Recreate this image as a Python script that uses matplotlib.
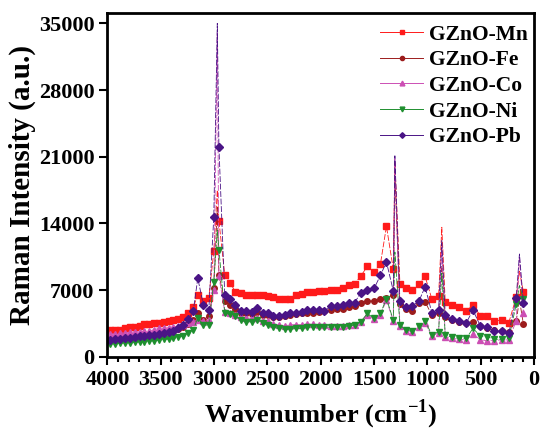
import numpy as np
import matplotlib
matplotlib.use("Agg")
import matplotlib.pyplot as plt
from matplotlib.lines import Line2D
from matplotlib.ticker import MultipleLocator

plt.rcParams['font.family'] = ['Liberation Serif']
plt.rcParams['font.weight'] = 'bold'
plt.rcParams['mathtext.fontset'] = 'custom'
plt.rcParams['mathtext.rm'] = 'Liberation Serif:bold'

# wavenumber positions of the plotted points (cm-1)
wn = [3972, 3925, 3878, 3831, 3788, 3744, 3697, 3655, 3612, 3565,
      3518, 3471, 3426, 3383, 3336, 3289, 3242, 3196, 3153, 3100,
      3050, 3003, 2955, 2900, 2852, 2800, 2750, 2700, 2648, 2598,
      2543, 2494, 2444, 2390, 2334, 2284, 2231, 2178, 2128, 2075,
      2018, 1965, 1904, 1849, 1792, 1736, 1683, 1626, 1563, 1500,
      1440, 1384, 1320, 1258, 1201, 1140, 1078, 1022, 958, 895,
      833, 770, 700, 635, 573, 503, 440, 371, 305, 237,
      167, 100]

mn = [2820, 2820, 2850, 3000, 3100, 3170, 3240, 3410, 3450, 3520,
      3590, 3660, 3760, 3870, 3940, 4150, 4630, 5220, 6480, 5850,
      6200, 11100, 14300, 8570, 7800, 6830, 6720, 6480, 6450, 6550,
      6450, 6410, 6340, 6030, 6130, 6130, 6480, 6650, 6830, 6830,
      6930, 6930, 7070, 7070, 7180, 7520, 7700, 8460, 9510, 8920,
      9790, 13700, 9200, 7700, 7180, 7000, 7700, 8460, 6060, 6370,
      5780, 5430, 5190, 4840, 5430, 4320, 4320, 3790, 3860, 3580,
      6300, 6830]

fe = [1900, 1950, 2000, 2050, 2100, 2150, 2200, 2250, 2300, 2400,
      2500, 2550, 2650, 2750, 2900, 3100, 3500, 3900, 4600, 3870,
      4320, 7180, 8570, 5890, 5500, 4980, 4630, 4630, 4490, 4740,
      4390, 4390, 4220, 4220, 4280, 4390, 4460, 4560, 4630, 4630,
      4740, 4810, 4910, 4980, 5080, 5190, 5330, 5710, 5850, 5890,
      6030, 6200, 6480, 5540, 4980, 4810, 5610, 5780, 4390, 4630,
      4220, 3870, 3690, 3590, 3690, 3240, 3000, 2820, 2720, 2650,
      3790, 3450]

co = [2400, 2450, 2500, 2540, 2600, 2650, 2650, 2700, 2720, 2850,
      3000, 3020, 3070, 3170, 3250, 3340, 3590, 3690, 3900, 3790,
      3870, 7000, 8460, 4740, 4560, 4450, 4180, 4100, 4050, 4100,
      3760, 3760, 3450, 3380, 3270, 3380, 3380, 3380, 3450, 3450,
      3380, 3380, 3270, 3270, 3270, 3300, 3380, 3700, 4400, 3930,
      4450, 5960, 3790, 3240, 2750, 2650, 3100, 3590, 2190, 2540,
      2060, 1950, 1850, 1780, 2440, 1800, 1700, 1710, 1800, 1780,
      3790, 4630]

ni = [1360, 1400, 1430, 1470, 1500, 1540, 1570, 1600, 1640, 1700,
      1780, 1850, 1880, 1950, 2060, 2190, 2540, 2820, 4100, 3340,
      3340, 7870, 11250, 4630, 4460, 4280, 3870, 3690, 3690, 3870,
      3520, 3340, 3100, 3000, 2890, 2890, 3000, 3000, 3170, 3100,
      3170, 3170, 3100, 3170, 3170, 3240, 3340, 3690, 4560, 4040,
      4560, 6130, 3870, 3340, 2820, 2750, 3240, 3790, 2300, 2650,
      2300, 2060, 1950, 1950, 3000, 2190, 2120, 1850, 1850, 1950,
      5540, 6130]

pb = [1780, 1830, 1880, 1950, 2020, 2080, 2150, 2190, 2250, 2300,
      2450, 2540, 2650, 2750, 3000, 3340, 3930, 4800, 8250, 5430,
      4910, 14660, 22050, 6480, 6060, 5500, 4840, 4840, 4740, 5150,
      4560, 4560, 4280, 4280, 4390, 4560, 4560, 4740, 4910, 4910,
      4910, 4810, 5330, 5330, 5430, 5610, 5680, 6720, 7070, 7180,
      8570, 9960, 6930, 5890, 5190, 5360, 5890, 7350, 4630, 4910,
      4390, 3930, 3760, 3590, 4910, 3240, 3100, 2720, 2720, 2470,
      6200, 5610]

# sharp peaks seen only as thin lines (no marker)
peak_wn = [2970, 1305, 865, 137]
mn_peak = [17500, 20500, 13600, 9000]
fe_peak = [15700, 19000, 9500, 6000]
co_peak = [34000, 20800, 11500, 10600]
ni_peak = [13300, 11000, 8800, 7500]
pb_peak = [35000, 21100, 12200, 10800]

series = [
    ("GZnO-Mn", mn, mn_peak, "#ff1a1a", "s", 4.0),
    ("GZnO-Fe", fe, fe_peak, "#9c1c1c", "o", 4.0),
    ("GZnO-Co", co, co_peak, "#cc4fb4", "^", 4.6),
    ("GZnO-Ni", ni, ni_peak, "#1f8f2f", "v", 4.6),
    ("GZnO-Pb", pb, pb_peak, "#4a1486", "D", 3.8),
]

fig = plt.figure(figsize=(5.4, 4.29), dpi=100)
ax = fig.add_axes([0.199, 0.168, 0.790, 0.802])

handles = []
for name, vals, peaks, col, mk, ms in series:
    xs = np.array(wn + peak_wn)
    ys = np.array(vals + peaks)
    order = np.argsort(-xs)
    ax.plot(xs[order], ys[order], color=col, lw=0.6, ls=(0, (7, 2)))
    ax.plot(wn, vals, ls='none', marker=mk, ms=ms, color=col, mec=col)
    handles.append(Line2D([], [], color=col, lw=0.7, marker=mk, ms=ms * 0.75, label=name))

ax.set_xlim(4000, 0)
ax.set_ylim(0, 36100)
ax.set_yticks(range(0, 35001, 7000))
ax.xaxis.set_major_locator(MultipleLocator(500))
ax.xaxis.set_minor_locator(MultipleLocator(100))
ax.tick_params(axis='both', which='major', direction='out', length=6, width=1.5, labelsize=16)
ax.tick_params(axis='x', which='minor', direction='out', length=3.5, width=1.5)
for sp in ax.spines.values():
    sp.set_linewidth(2)

ax.set_xlabel("Wavenumber (cm$^{-1}$)", fontsize=19, fontweight='bold', labelpad=5)
ax.set_ylabel("Raman Intensity (a.u.)", fontsize=21, fontweight='bold', labelpad=2)

ax.legend(handles=handles, loc='upper right', bbox_to_anchor=(1.0, 0.985), frameon=False,
          handlelength=2.0, handletextpad=0.25, labelspacing=0.26,
          borderaxespad=0.0, borderpad=0.3, prop={'weight': 'bold', 'size': 15.5})

fig.savefig("out.png", dpi=100)
